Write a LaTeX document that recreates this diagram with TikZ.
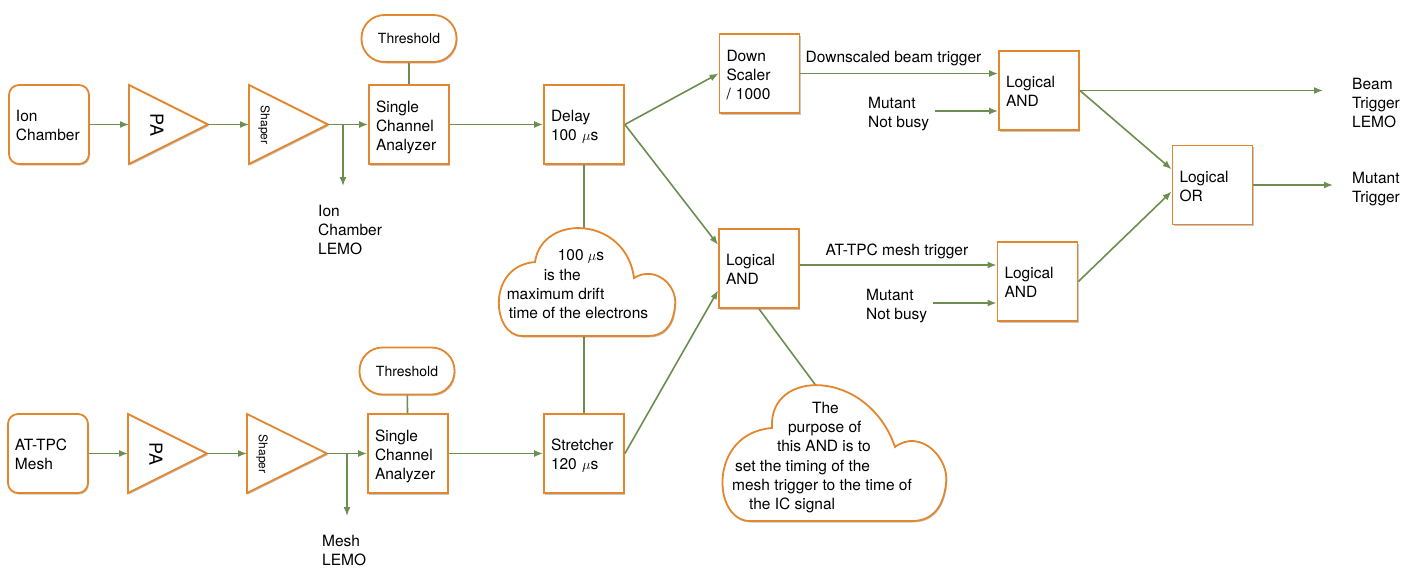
\documentclass[tikz,border=0pt]{standalone}
\usepackage{fontspec}
\setmainfont{TeX Gyre Heros}
\usetikzlibrary{arrows.meta,shadows}
\definecolor{bord}{RGB}{226,135,46}
\definecolor{conn}{RGB}{108,142,80}
\begin{document}
\begin{tikzpicture}[x=1pt,y=-1pt,
  font=\fontsize{15.5}{19}\selectfont,
  shad/.style={drop shadow={shadow xshift=1pt,shadow yshift=-1.5pt,opacity=0.22,fill=black}},
  sqbox/.style={draw=bord,line width=1.8pt,fill=white,minimum width=80pt,minimum height=79pt,text width=66pt,align=left,inner sep=0pt,shad,
    execute at begin node={\rule{0pt}{18.5pt}},execute at end node={\rule[-5pt]{0pt}{5pt}}},
  rbox/.style={sqbox,rounded corners=10pt},
  pill/.style={draw=bord,line width=1.8pt,fill=white,rounded corners=23pt,minimum width=95pt,minimum height=47pt,font=\fontsize{14}{16}\selectfont,shad},
  lbl/.style={align=left,inner sep=0pt,anchor=west},
  cltext/.style={align=left,inner sep=0pt,font=\fontsize{15.5}{19.3}\selectfont},
  arr/.style={draw=conn,line width=1.6pt,-{Latex[length=9pt,width=7pt]}},
  ln/.style={draw=conn,line width=1.6pt},
  tri/.style={draw=bord,line width=1.8pt,fill=white,line join=miter,shad},
  cloudsty/.style={draw=bord,line width=1.8pt,fill=white,shad},
]
\fill[white] (0,0) rectangle (1428,584);
\useasboundingbox (0,0) rectangle (1428,584);

% ---------- top row ----------
\node[rbox] (ion) at (49,124.5) {Ion\\Chamber};
\draw[tri] (129,85) -- (208,124.5) coordinate (pa1out) -- (129,164) -- cycle;
\coordinate (pa1in) at (129,124.5);
\node[rotate=-90,font=\fontsize{18}{20}\selectfont,inner sep=0pt] (pa1) at (157,125) {PA};
\draw[tri] (249,85) -- (328,124.5) coordinate (sh1out) -- (249,164) -- cycle;
\coordinate (sh1in) at (249,124.5);
\node[rotate=-90,font=\fontsize{12}{14}\selectfont,inner sep=0pt] (sh1) at (264,125) {Shaper};
\node[sqbox] (sca1) at (409,124.5) {Single\\Channel\\Analyzer};
\node[pill] (thr1) at (409,38.5) {Threshold};
\node[sqbox] (delay) at (584,124.5) {Delay\\100 $\mu$s};

\draw[arr] (ion) -- (pa1in);
\draw[arr] (pa1out) -- (sh1in);
\draw[arr] (sh1out) -- (sca1);
\coordinate (br1) at (343,124.5);
\coordinate (lemo1) at (343,186);
\draw[arr] (br1) -- (lemo1);
\node[lbl] (lemo1t) at (318,229.5) {Ion\\Chamber\\LEMO};
\draw[ln] (thr1) -- (sca1);
\draw[arr] (sca1) -- (delay);

% ---------- bottom row ----------
\node[rbox] (mesh) at (48,453.5) {AT-TPC\\Mesh};
\draw[tri] (128,414) -- (207,453.5) coordinate (pa2out) -- (128,493) -- cycle;
\coordinate (pa2in) at (128,453.5);
\node[rotate=-90,font=\fontsize{18}{20}\selectfont,inner sep=0pt] (pa2) at (156,454) {PA};
\draw[tri] (247,414) -- (327,453.5) coordinate (sh2out) -- (247,493) -- cycle;
\coordinate (sh2in) at (247,453.5);
\node[rotate=-90,font=\fontsize{12}{14}\selectfont,inner sep=0pt] (sh2) at (262,454) {Shaper};
\node[sqbox] (sca2) at (408,453.5) {Single\\Channel\\Analyzer};
\node[pill] (thr2) at (407,371) {Threshold};
\node[sqbox] (stretch) at (584,453.5) {Stretcher\\120 $\mu$s};

\draw[arr] (mesh) -- (pa2in);
\draw[arr] (pa2out) -- (sh2in);
\draw[arr] (sh2out) -- (sca2);
\coordinate (br2) at (347,453.5);
\coordinate (lemo2) at (347,516);
\draw[arr] (br2) -- (lemo2);
\node[lbl] (lemo2t) at (322,550) {Mesh\\LEMO};
\draw[ln] (thr2) -- (sca2);
\draw[arr] (sca2) -- (stretch);

% ---------- middle ----------
\node[sqbox] (ds) at (759.5,73.5) {Down\\Scaler\\/ 1000};
\node[sqbox] (andm) at (759,268.5) {Logical\\AND};
\draw[arr] (delay.east) -- (ds.west);
\draw[arr] (delay.east) -- (andm.150);
\draw[arr] (stretch.east) -- (andm.208);

% cloud 1
\coordinate (c1top) at (584,228);
\coordinate (c1bot) at (584,334);
\draw[ln] (delay.south) -- (c1top);
\draw[ln] (c1bot) -- (stretch.north);
\draw[cloudsty] (535,262) .. controls (542,213) and (626,216) .. (634,278)
  .. controls (655,265) and (678,285) .. (675,306)
  .. controls (673,328) and (662,336) .. (648,336) -- (522,336)
  .. controls (492,336) and (486,266) .. (535,262) -- cycle;
\node[cltext] (cloud1) at (577.5,284.5)
  {\hspace*{51pt}100 $\mu$s\\\hspace*{37pt}is the\\maximum drift\\\hspace*{2pt}time of the electrons};

% cloud 2
\coordinate (c2top) at (817,387);
\draw[ln] (andm.south) -- (c2top);
\draw[cloudsty] (772,428) .. controls (768,368) and (868,368) .. (895,447)
  .. controls (920,428) and (950,458) .. (946,484)
  .. controls (943,510) and (930,521) .. (912,521) -- (750,521)
  .. controls (712,521) and (708,433) .. (772,428) -- cycle;
\node[cltext] (cloud2) at (822,457.5)
  {\hspace*{80pt}The\\\hspace*{56pt}purpose of\\\hspace*{45pt}this AND is to\\\hspace*{3pt}set the timing of the\\mesh trigger to the time of\\\hspace*{17pt}the IC signal};

% ---------- right part ----------
\node[sqbox] (andt) at (1039,90.5) {Logical\\AND};
\node[sqbox] (andb) at (1037.5,281.5) {Logical\\AND};
\node[sqbox] (or) at (1212.5,185) {Logical\\OR};

\draw[arr] (ds.east) -- (ds.east -| andt.west);
\node (dsl) at (893.5,59) {Downscaled beam trigger};
\node[lbl] (mnb1) at (868,114) {Mutant\\Not busy};
\draw[arr] (935,111) coordinate (mnb1s) -- (mnb1s -| andt.west);

\draw[arr] (andm.east |- 0,265) coordinate (atls) -- (atls -| andb.west);
\node (atl) at (897,251) {AT-TPC mesh trigger};
\node[lbl] (mnb2) at (866,306) {Mutant\\Not busy};
\draw[arr] (933,303) coordinate (mnb2s) -- (mnb2s -| andb.west);

\coordinate (btend) at (1323,90.5);
\draw[arr] (andt.east) -- (btend);
\node[lbl] (btl) at (1352,103) {Beam\\Trigger\\LEMO};
\draw[arr] (andt.east) -- (or.159);
\draw[arr] (andb.east) -- (or.189);
\coordinate (mtend) at (1333,185);
\draw[arr] (or.east) -- (mtend);
\node[lbl] (mtl) at (1352,189) {Mutant\\Trigger};
\end{tikzpicture}
\end{document}
